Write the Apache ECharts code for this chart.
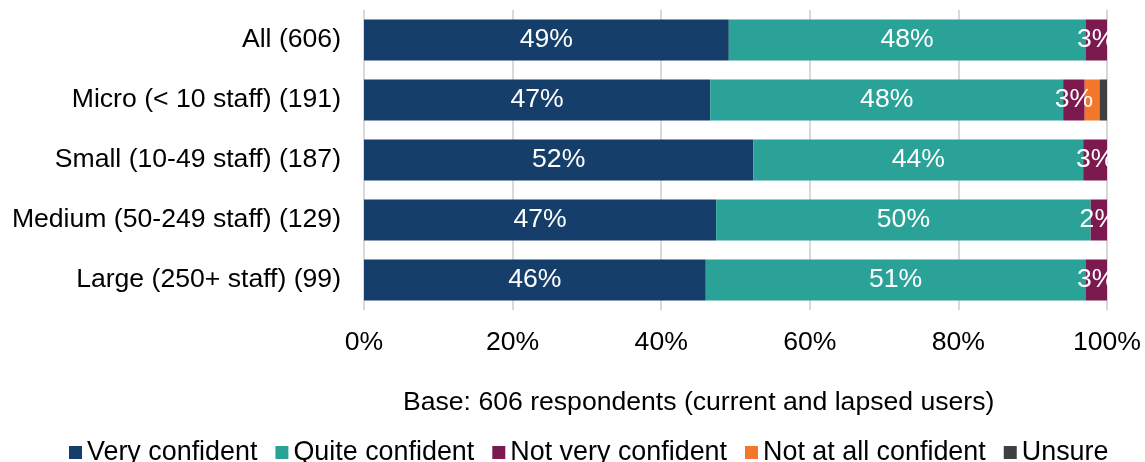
<!DOCTYPE html>
<html>
<head>
<meta charset="utf-8">
<script src="https://cdn.jsdelivr.net/npm/echarts@6/dist/echarts.min.js"></script>
<style>
  html, body { margin: 0; padding: 0; background: #ffffff; }
  #chart { width: 1145px; height: 462px; }
</style>
</head>
<body>
<div id="chart"></div>
<script>
// Respondent groups (base sizes in brackets)
const categories = [
  'All (606)',
  'Micro (< 10 staff) (191)',
  'Small (10-49 staff) (187)',
  'Medium (50-249 staff) (129)',
  'Large (250+ staff) (99)'
];

// Share of respondents in each confidence level, %
const veryConfident     = [49.1, 46.6, 52.4, 47.4, 46.0];
const quiteConfident    = [48.0, 47.5, 44.4, 50.4, 51.1];
const notVeryConfident  = [2.9, 2.9, 3.2, 2.2, 2.9];
const notAtAllConfident = [0, 2.0, 0, 0, 0];
const unsure            = [0, 1.0, 0, 0, 0];

const seriesNames = ['Very confident', 'Quite confident', 'Not very confident', 'Not at all confident', 'Unsure'];
const seriesColors = ['#153f6a', '#2aa297', '#7c1a4f', '#f4762a', '#404040'];
const seriesLabelled = [true, true, true, false, false];
const seriesValues = [veryConfident, quiteConfident, notVeryConfident, notAtAllConfident, unsure];

const baseNote = 'Base: 606 respondents (current and lapsed users)';

const FONT = '"Liberation Sans", Arial, sans-serif';
const TEXT_SIZE = 26.6;

const chart = echarts.init(document.getElementById('chart'), null, { renderer: 'canvas' });

chart.setOption({
  animation: false,
  textStyle: { fontFamily: FONT },
  grid: { left: 364, right: 38, top: 10, bottom: 152, containLabel: false },
  xAxis: {
    type: 'value',
    min: 0,
    max: 100,
    interval: 20,
    axisLine: { show: false },
    axisTick: { show: false },
    splitLine: { show: true, lineStyle: { color: '#d9d9d9', width: 2 } },
    axisLabel: {
      formatter: '{value}%',
      color: '#000000',
      fontSize: TEXT_SIZE,
      fontFamily: FONT,
      margin: 19
    }
  },
  yAxis: {
    type: 'category',
    data: categories,
    inverse: true,
    axisLine: { show: false },
    axisTick: { show: false },
    axisLabel: {
      color: '#000000',
      fontSize: TEXT_SIZE,
      fontFamily: FONT,
      margin: 23
    }
  },
  legend: {
    data: seriesNames,
    left: 69,
    top: 439,
    padding: 0,
    itemWidth: 13,
    itemHeight: 13,
    itemGap: 18,
    icon: 'rect',
    textStyle: { color: '#000000', fontSize: 26.9, fontFamily: FONT, lineHeight: 26 }
  },
  graphic: [{
    type: 'text',
    left: 403,
    top: 389,
    style: {
      text: baseNote,
      fill: '#000000',
      font: TEXT_SIZE + 'px ' + FONT
    }
  }],
  series: seriesNames.map((name, i) => ({
    name: name,
    type: 'bar',
    stack: 'total',
    barWidth: 41,
    data: seriesValues[i],
    itemStyle: { color: seriesColors[i] },
    label: {
      show: seriesLabelled[i],
      position: 'inside',
      color: '#ffffff',
      fontSize: TEXT_SIZE,
      fontFamily: FONT,
      formatter: p => Math.round(p.value) + '%'
    }
  }))
});
</script>
</body>
</html>
